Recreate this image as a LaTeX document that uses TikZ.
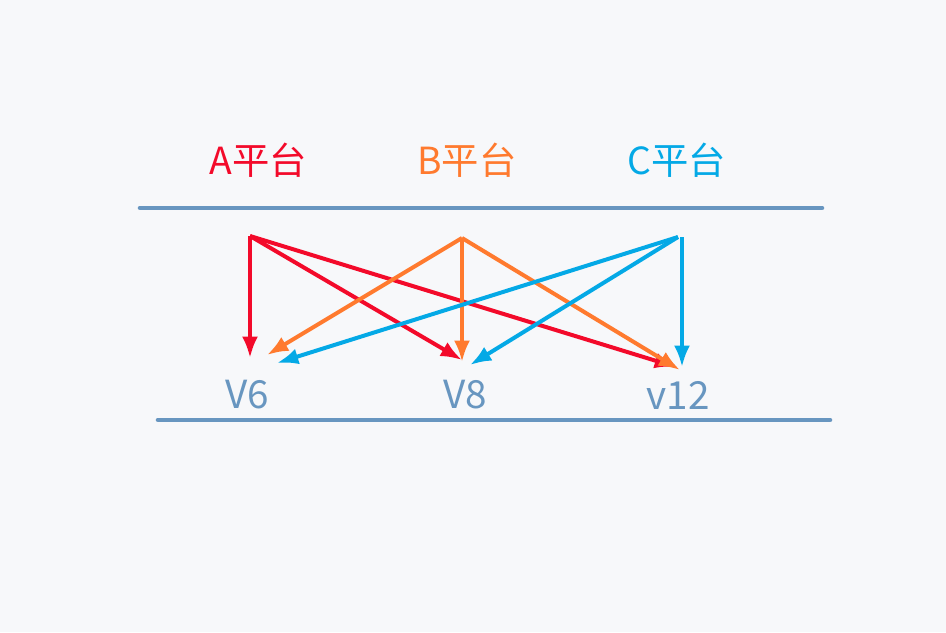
\documentclass[tikz,border=0pt]{standalone}
\usepackage{fontspec}
\setmainfont{Noto Sans CJK SC}
\usepackage{tikz}
\usetikzlibrary{calc,arrows.meta}

\definecolor{bgc}{HTML}{F7F8FA}
\definecolor{linec}{HTML}{6896C0}
\definecolor{ared}{HTML}{F30A2A}
\definecolor{borange}{HTML}{FF7A2E}
\definecolor{ccyan}{HTML}{04A9E6}

\tikzset{
  rail/.style={line width=3.4pt, linec, line cap=round},
  plat/.style={font=\fontsize{28}{32}\selectfont, inner sep=0pt},
  ver/.style={font=\fontsize{29}{32}\selectfont, inner sep=0pt, text=linec},
  link/.style={line width=3pt, -{Latex[length=16pt,width=12pt]}}
}

\begin{document}
\begin{tikzpicture}[x=0.75pt,y=-0.75pt]
  \fill[bgc] (0,0) rectangle (946,632);
  \useasboundingbox (0,0) rectangle (946,632);

  \node[plat, text=ared] (pa) at (258,160) {A平台};
  \node[plat, text=borange] (pb) at (467,160) {B平台};
  \node[plat, text=ccyan] (pc) at (677,160) {C平台};

  \coordinate (t1) at (140,208);
  \coordinate (t2) at (822,208);
  \coordinate (b1) at (158,420);
  \coordinate (b2) at (830,420);
  \draw[rail] (t1) -- (t2);
  \draw[rail] (b1) -- (b2);

  \node[ver] (v6) at (247,395) {V6};
  \node[ver] (v8) at (465,395) {V8};
  \node[ver] (v12) at (678,395) {v12};

  \coordinate (sa) at (250,236);
  \coordinate (sb) at (462,238);
  \coordinate (sc) at (678,237);
  \coordinate (sc2) at (682,237);

  \coordinate (a6) at (250,358);
  \coordinate (a8) at (462,360);
  \coordinate (a12) at (676,367);
  \coordinate (b6) at (267,355);
  \coordinate (b8) at (462,362);
  \coordinate (b12) at (680,370);
  \coordinate (c6) at (277,363);
  \coordinate (c8) at (470,365);
  \coordinate (c12) at (682,367);

  \draw[link, ared] (sa) -- (a6);
  \draw[link, ared] (sa) -- (a8);
  \draw[link, ared] (sa) -- (a12);

  \draw[link, borange] (sb) -- (b6);
  \draw[link, borange] (sb) -- (b8);
  \draw[link, borange] (sb) -- (b12);

  \draw[link, ccyan] (sc) -- (c6);
  \draw[link, ccyan] (sc) -- (c8);
  \draw[link, ccyan] (sc2) -- (c12);
\end{tikzpicture}
\end{document}
